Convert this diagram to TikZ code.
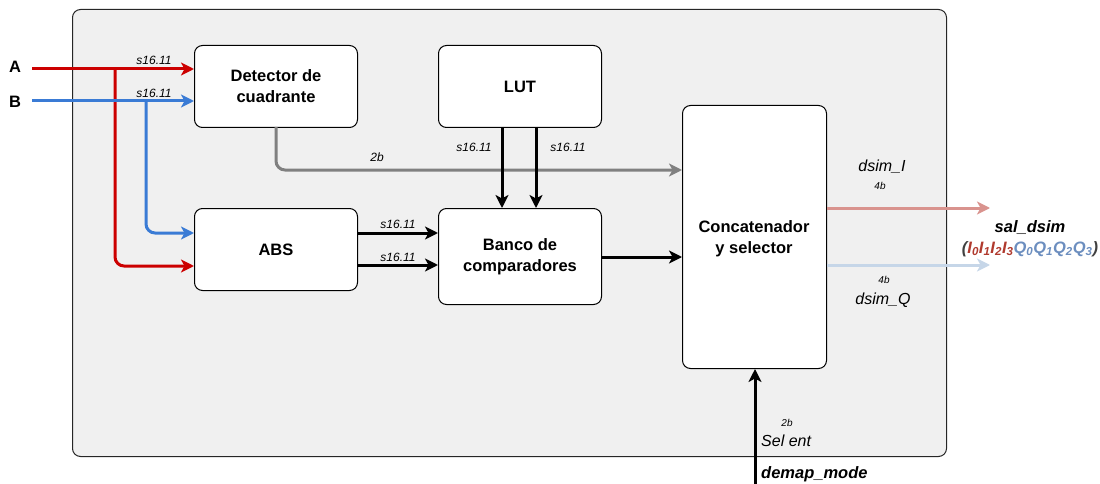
\documentclass[tikz,border=0pt]{standalone}
\usepackage{fontspec}
\setmainfont{Liberation Sans}
\usetikzlibrary{arrows.meta}
\definecolor{bgc}{HTML}{F0F0F0}
\definecolor{ared}{HTML}{CC0000}
\definecolor{bblue}{HTML}{3A7BD5}
\definecolor{dgray}{HTML}{808080}
\definecolor{ored}{HTML}{D9938E}
\definecolor{oblue}{HTML}{C6D6E8}
\definecolor{tred}{HTML}{B03A2E}
\definecolor{tblue}{HTML}{6C8EBF}
\tikzset{
  blk/.style={draw=black, fill=white, rounded corners=8pt, line width=1pt, font=\bfseries\fontsize{16.5}{21}\selectfont, align=center},
  wire/.style={line width=3pt, -{Stealth[length=13pt,width=13pt,inset=3.5pt]}, rounded corners=9pt},
  lbl/.style={font=\itshape\fontsize{12}{14}\selectfont, inner sep=0pt},
  tiny/.style={font=\itshape\fontsize{10}{12}\selectfont, inner sep=0pt},
  mid/.style={font=\itshape\fontsize{16}{18}\selectfont, inner sep=0pt},
  bmid/.style={font=\bfseries\itshape\fontsize{16.5}{18}\selectfont, inner sep=0pt},
}
\begin{document}
\begin{tikzpicture}[x=1pt,y=-1pt]
\useasboundingbox (0,0) rectangle (1100,484);
\node[draw=black!85, fill=bgc, rounded corners=8pt, line width=1pt, minimum width=874pt, minimum height=447pt, anchor=north west] (bg) at (72,9) {};
\node[blk, minimum width=163pt, minimum height=82pt, anchor=north west] (det) at (194,45) {Detector de\\cuadrante};
\node[blk, minimum width=163pt, minimum height=82pt, anchor=north west] (lut) at (438,45) {LUT};
\node[blk, minimum width=163pt, minimum height=82pt, anchor=north west] (abs) at (194,208) {ABS};
\node[blk, minimum width=163pt, minimum height=96pt, anchor=north west] (ban) at (438,208) {Banco de\\comparadores};
\node[blk, minimum width=144pt, minimum height=263pt, anchor=north west] (cat) at (682,105) {};
\node[font=\bfseries\fontsize{16.5}{21}\selectfont, align=center, inner sep=0pt] (catt) at (754,239) {Concatenador\\y selector};

\node[font=\bfseries\fontsize{16.5}{20}\selectfont, inner sep=0pt] (A) at (15,67) {A};
\node[font=\bfseries\fontsize{16.5}{20}\selectfont, inner sep=0pt] (B) at (15,102) {B};
\coordinate (As) at (32,69);
\coordinate (Bs) at (32,101);

% A
\draw[wire, ared] (As) -- (det.west |- As);
\draw[wire, ared] (115,69) -- (115,266) -- (abs.west |- 0,266);
% B
\draw[wire, bblue] (Bs) -- (det.west |- Bs);
\draw[wire, bblue] (146,101) -- (146,233) -- (abs.west |- 0,233);
\node[lbl] (la) at (154,60) {s16.11};
\node[lbl] (lb) at (154,93) {s16.11};

% detector to concat
\draw[wire, dgray] (276,127) -- (276,170) -- (cat.west |- 0,170);
\node[lbl] (l2b) at (377,157) {2b};

% LUT to banco
\draw[wire, black] (502,127) -- (502,208);
\draw[wire, black] (536,127) -- (536,208);
\node[lbl] (ll1) at (474,147) {s16.11};
\node[lbl] (ll2) at (568,147) {s16.11};

% ABS to banco
\draw[wire, black] (abs.east |- 0,233) -- (ban.west |- 0,233);
\draw[wire, black] (abs.east |- 0,265) -- (ban.west |- 0,265);
\node[lbl] (la1) at (398,224) {s16.11};
\node[lbl] (la2) at (398,257) {s16.11};

% banco to concat
\draw[wire, black] (ban.east |- 0,257) -- (cat.west |- 0,257);

% outputs
\coordinate (oi) at (990,208);
\coordinate (oq) at (990,265);
\draw[wire, ored] (cat.east |- oi) -- (oi);
\draw[wire, oblue] (cat.east |- oq) -- (oq);
\node[mid] (dI) at (882,167) {dsim\_I};
\node[tiny] (b4a) at (880,186) {4b};
\node[tiny] (b4b) at (884,280) {4b};
\node[mid] (dQ) at (883,300) {dsim\_Q};
\node[bmid] (sal) at (1030,228) {sal\_dsim};
\node[bmid, text=black!75] (seq) at (1030,249) {(\textcolor{tred}{I\textsubscript{0}I\textsubscript{1}I\textsubscript{2}I\textsubscript{3}}\textcolor{tblue}{Q\textsubscript{0}Q\textsubscript{1}Q\textsubscript{2}Q\textsubscript{3}})};

% bottom input
\coordinate (din) at (755,484);
\draw[wire, black] (din) -- (cat.south -| din);
\node[tiny] (b2) at (787,423) {2b};
\node[mid, anchor=west] (sel) at (761,441) {Sel ent};
\node[bmid, anchor=west] (dm) at (761,474) {demap\_mode};
\end{tikzpicture}
\end{document}
